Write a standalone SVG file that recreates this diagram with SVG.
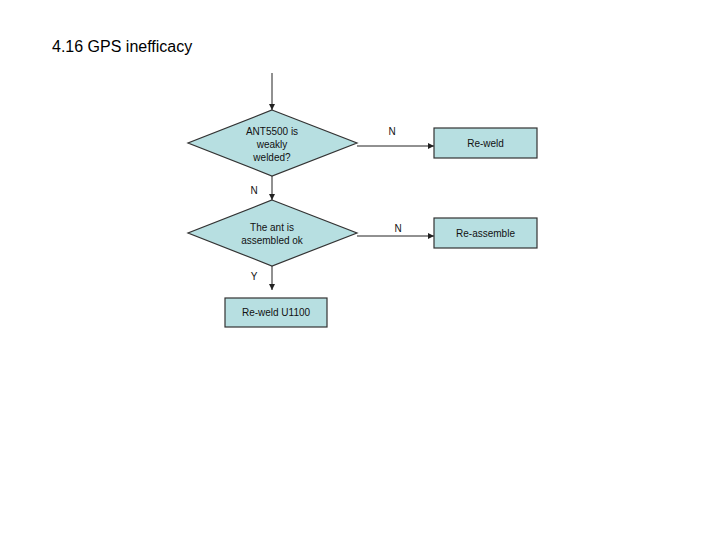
<svg xmlns="http://www.w3.org/2000/svg" width="720" height="540" viewBox="0 0 720 540">
<style>
.shape{fill:#b7dfe1;stroke:#333;stroke-width:1.2}
.t{font-family:"Liberation Sans",Arial,sans-serif;font-size:10px;fill:#111;text-anchor:middle}
.c{stroke:#222;stroke-width:1;fill:none;marker-end:url(#ah)}
</style>
<defs>
<marker id="ah" viewBox="0 0 10 10" refX="10" refY="5" markerWidth="6" markerHeight="6" orient="auto" markerUnits="userSpaceOnUse">
<path d="M0,0 L10,5 L0,10 z" fill="#222"/>
</marker>
</defs>
<rect width="720" height="540" fill="#fff"/>
<text x="52" y="52" font-family="'Liberation Sans',Arial,sans-serif" font-size="16" fill="#000">4.16 GPS inefficacy</text>
<g id="connectors">
<line class="c" x1="272" y1="73" x2="272" y2="110"/>
<line class="c" x1="272" y1="176" x2="272" y2="200"/>
<line class="c" x1="357" y1="146" x2="434" y2="146"/>
<line class="c" x1="357" y1="236" x2="434" y2="236"/>
<line class="c" x1="272" y1="266" x2="272" y2="290"/>
<text class="t" x="392" y="135">N</text>
<text class="t" x="398" y="232">N</text>
<text class="t" x="254" y="194">N</text>
<text class="t" x="254" y="280">Y</text>
</g>
<g id="d1">
<polygon class="shape" points="272,110 357,143 272,176 188,143"/>
<text class="t" x="272" y="135">ANT5500 is</text>
<text class="t" x="272" y="148">weakly</text>
<text class="t" x="272" y="161">welded?</text>
</g>
<g id="d2">
<polygon class="shape" points="272,200 357,233 272,266 188,233"/>
<text class="t" x="272" y="231">The ant is</text>
<text class="t" x="272" y="244">assembled ok</text>
</g>
<g id="reweld">
<rect class="shape" x="434" y="128" width="103" height="30"/>
<text class="t" x="485.5" y="147">Re-weld</text>
</g>
<g id="reassemble">
<rect class="shape" x="434" y="218" width="103" height="30"/>
<text class="t" x="485.5" y="237">Re-assemble</text>
</g>
<g id="reweldu1100">
<rect class="shape" x="225" y="298" width="102" height="29"/>
<text class="t" x="276" y="316">Re-weld U1100</text>
</g>
</svg>
